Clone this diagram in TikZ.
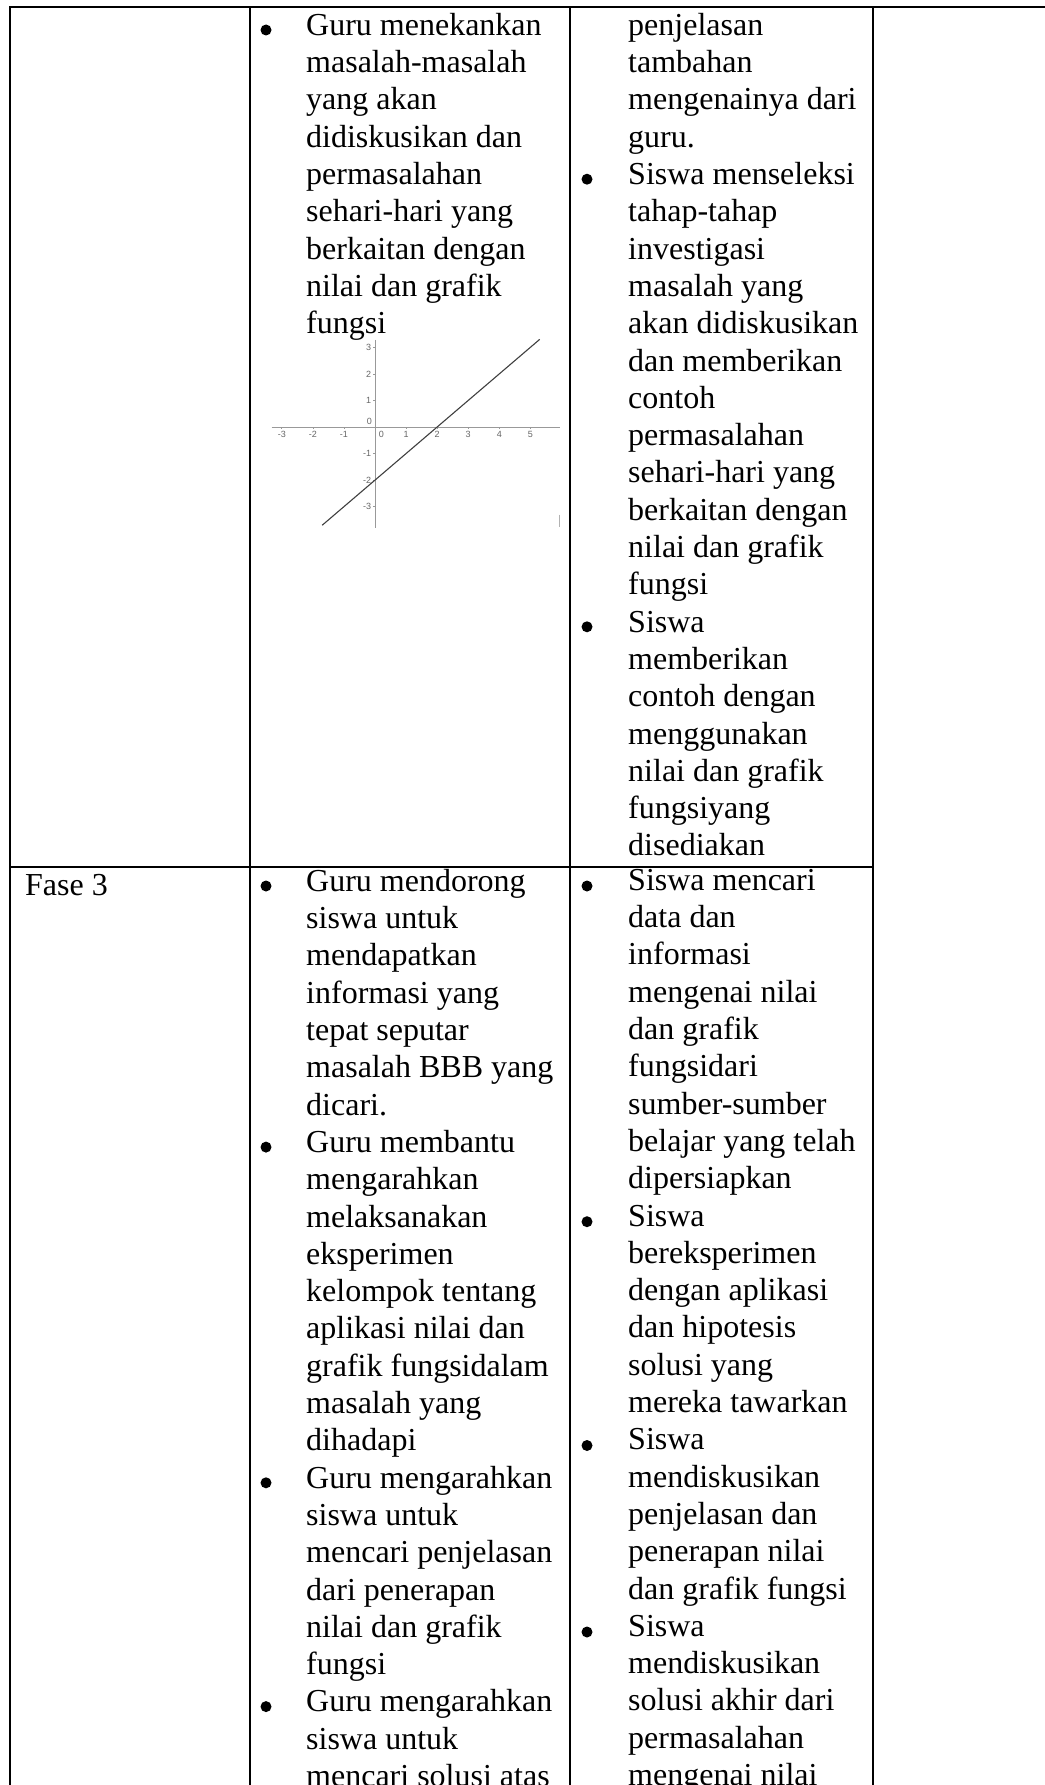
\documentclass[tikz,border=0pt]{standalone}
\usepackage{fontspec}
\setmainfont{Liberation Serif}
\setsansfont{Liberation Sans}
\newcommand{\cellfont}{\fontsize{32}{37.3}\selectfont}
\tikzset{
  tline/.style={line width=2pt, line cap=rect},
  ctxt/.style={font=\cellfont, anchor=north west, inner sep=0pt, align=left, execute at begin node=\strut},
  dot/.style={circle, fill=black, inner sep=0pt, minimum size=11pt},
  gaxis/.style={draw=gray!80, line width=0.9pt},
  gline/.style={draw=black!75, line width=1.1pt},
  gnum/.style={font=\sffamily\fontsize{9}{10}\selectfont, text=black!60, inner sep=0.5pt}
}

\begin{document}
\begin{tikzpicture}[x=1pt, y=-1pt]
    \useasboundingbox (0,0) rectangle (1044,1785);
    \fill[white] (0,0) rectangle (1044,1785);
    % table rules
    \draw[tline] (10,6.7) -- (1044,6.7);
    \foreach \x in {10,250,570,873} \draw[tline] (\x,6.7) -- (\x,1785);
    \draw[tline] (10,867) -- (873,867);
    % row 1, teacher
    \node[ctxt] (r1c2) at (306,12.9) {Guru menekankan\\ masalah-masalah\\ yang akan\\ didiskusikan dan\\
      permasalahan\\ sehari-hari yang\\ berkaitan dengan\\ nilai dan grafik\\ fungsi};
    \node[dot] (b12-0) at (266,30) {};
    % graph y = x - 2
    \begin{scope}[shift={(375,427)}, x=31.07pt, y=26.55pt]
      \draw[gaxis] (-3.33,0) -- (5.94,0);
      \draw[gaxis] (0,3.28) -- (0,-3.8);
      \foreach \v in {-3,...,5} \draw[gaxis, line width=0.6pt] (\v,0) -- (\v,-0.09);
      \foreach \v in {-3,...,3} \draw[gaxis, line width=0.6pt] (0,\v) -- (-0.08,\v);
      \foreach \v in {-3,-2,-1,1,2,3,4,5} \node[gnum, anchor=north] (xl\v) at (\v,-0.14) {\v};
      \foreach \v in {-3,-2,-1,1,2,3} \node[gnum, anchor=east] (yl\v) at (-0.1,\v) {\v};
      \node[gnum, anchor=north west] (xl0) at (0.1,-0.14) {0};
      \node[gnum, anchor=south east] (yl0) at (-0.08,0.06) {0};
      \draw[gline] (-1.7,-3.7) -- (5.3,3.3);
      \draw[gray!60, line width=0.8pt] (5.95,-3.3) -- (5.95,-3.75);
    \end{scope}
    % row 1, students
    \node[ctxt] (r1c3) at (628,12.9) {penjelasan\\ tambahan\\ mengenainya dari\\ guru.\\
      Siswa menseleksi\\ tahap-tahap\\ investigasi\\ masalah yang\\ akan didiskusikan\\
      dan memberikan\\ contoh\\ permasalahan\\ sehari-hari yang\\ berkaitan dengan\\
      nilai dan grafik\\ fungsi\\
      Siswa\\ memberikan\\ contoh dengan\\ menggunakan\\ nilai dan grafik\\
      fungsiyang\\ disediakan};
    \foreach \k in {4,16} \node[dot] (b13-\k) at (587,{30+37.3*\k}) {};
    % row 2
    \node[ctxt] (r2c1) at (25,868.9) {Fase 3};
    \node[ctxt] (r2c2) at (306,868.9) {Guru mendorong\\ siswa untuk\\ mendapatkan\\ informasi yang\\
      tepat seputar\\ masalah BBB yang\\ dicari.\\
      Guru membantu\\ mengarahkan\\ melaksanakan\\ eksperimen\\ kelompok tentang\\
      aplikasi nilai dan\\ grafik fungsidalam\\ masalah yang\\ dihadapi\\
      Guru mengarahkan\\ siswa untuk\\ mencari penjelasan\\ dari penerapan\\
      nilai dan grafik\\ fungsi\\
      Guru mengarahkan\\ siswa untuk\\ mencari solusi atas};
    \foreach \k in {0,7,16,22} \node[dot] (b22-\k) at (266,{886+37.3*\k}) {};
    \node[ctxt] (r2c3) at (628,868.9) {Siswa mencari\\ data dan\\ informasi\\ mengenai nilai\\
      dan grafik\\ fungsidari\\ sumber-sumber\\ belajar yang telah\\ dipersiapkan\\
      Siswa\\ bereksperimen\\ dengan aplikasi\\ dan hipotesis\\ solusi yang\\
      mereka tawarkan\\
      Siswa\\ mendiskusikan\\ penjelasan dan\\ penerapan nilai\\ dan grafik fungsi\\
      Siswa\\ mendiskusikan\\ solusi akhir dari\\ permasalahan\\ mengenai nilai};
    \foreach \k in {0,9,15,20} \node[dot] (b23-\k) at (587,{886+37.3*\k}) {};
\end{tikzpicture}
\end{document}
